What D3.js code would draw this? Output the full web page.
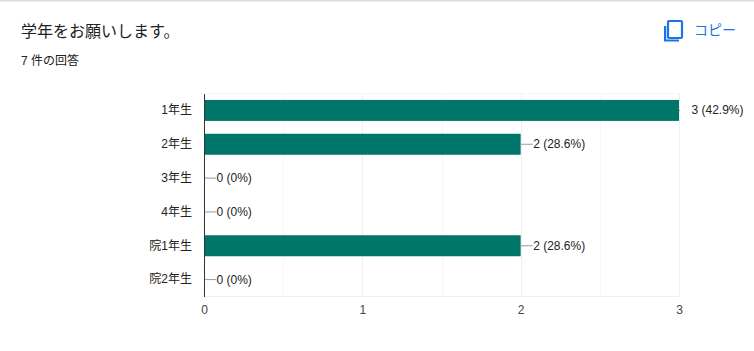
<!DOCTYPE html>
<html>
<head>
<meta charset="utf-8">
<script src="https://cdn.jsdelivr.net/npm/d3@7"></script>
<style>
  html, body { margin: 0; padding: 0; background: #fff; overflow: hidden; }
  text { font-family: "Liberation Sans", "Noto Sans CJK JP", sans-serif; }
</style>
</head>
<body>
<div id="chart"></div>
<script>
const categories = ["1年生", "2年生", "3年生", "4年生", "院1年生", "院2年生"];
const counts = [3, 2, 0, 0, 2, 0];
const percents = ["42.9%", "28.6%", "0%", "0%", "28.6%", "0%"];
const ticks = [0, 1, 2, 3];
const gridTicks = [0.5, 1, 1.5, 2, 2.5, 3];

const width = 754;
const height = 351;
const margin = { top: 93.5, right: 75, bottom: 54.5, left: 204 };
const innerW = width - margin.left - margin.right;
const innerH = height - margin.top - margin.bottom;

const svg = d3.select("#chart")
  .append("svg")
  .attr("width", width)
  .attr("height", height)
  .style("display", "block");

// Card top edge
svg.append("rect")
  .attr("width", width)
  .attr("height", 1.5)
  .attr("fill", "#dadce0");

// Header
svg.append("text")
  .attr("x", 21)
  .attr("y", 37)
  .attr("font-size", "16px")
  .attr("fill", "#202124")
  .text("学年をお願いします。");

svg.append("text")
  .attr("x", 21)
  .attr("y", 65)
  .attr("font-size", "12px")
  .attr("fill", "#202124")
  .text("7 件の回答");

// Copy icon
const icon = svg.append("g")
  .attr("fill", "none")
  .attr("stroke", "#1a73e8")
  .attr("stroke-width", 2.2);
icon.append("rect")
  .attr("x", 668).attr("y", 21)
  .attr("width", 14).attr("height", 17)
  .attr("rx", 1);
icon.append("path")
  .attr("d", "M665.1 26V40.5H679");

svg.append("text")
  .attr("x", 694)
  .attr("y", 35)
  .attr("font-size", "14px")
  .attr("fill", "#1a73e8")
  .text("コピー");

const g = svg.append("g")
  .attr("transform", `translate(${margin.left},${margin.top})`);

const x = d3.scaleLinear()
  .domain([0, 3])
  .range([0, innerW]);

const y = d3.scaleBand()
  .domain(categories)
  .range([0, innerH])
  .paddingInner(0.38)
  .paddingOuter(0.19);

// Grid lines
g.selectAll(".grid")
  .data(gridTicks)
  .join("line")
  .attr("class", "grid")
  .attr("x1", d => Math.round(x(d)) + 0.5)
  .attr("x2", d => Math.round(x(d)) + 0.5)
  .attr("y1", 0)
  .attr("y2", innerH)
  .attr("stroke", d => Number.isInteger(d) ? "#efefef" : "#f6f6f6");

g.append("line")
  .attr("x1", 0).attr("x2", innerW)
  .attr("y1", 0).attr("y2", 0)
  .attr("stroke", "#f3f3f3");

g.append("line")
  .attr("x1", 0).attr("x2", innerW)
  .attr("y1", innerH).attr("y2", innerH)
  .attr("stroke", "#efefef");

// Bars
g.selectAll(".bar")
  .data(categories)
  .join("rect")
  .attr("class", "bar")
  .attr("x", 0)
  .attr("y", d => y(d))
  .attr("width", (d, i) => x(counts[i]))
  .attr("height", y.bandwidth())
  .attr("fill", "#00756a");

// Leader lines, the longest bar only gets a stub
const maxCount = d3.max(counts);
g.selectAll(".leader")
  .data(categories)
  .join("line")
  .attr("class", "leader")
  .attr("x1", (d, i) => x(counts[i]))
  .attr("x2", (d, i) => x(counts[i]) + (counts[i] === maxCount ? 1 : 12))
  .attr("y1", d => y(d) + y.bandwidth() / 2)
  .attr("y2", d => y(d) + y.bandwidth() / 2)
  .attr("stroke", "#9a9a9a");

// Value labels
g.selectAll(".value")
  .data(categories)
  .join("text")
  .attr("class", "value")
  .attr("x", (d, i) => x(counts[i]) + 12.5)
  .attr("y", d => y(d) + y.bandwidth() / 2 + 4)
  .attr("font-size", "12px")
  .attr("fill", "#222")
  .text((d, i) => `${counts[i]} (${percents[i]})`);

// Axes
const yAxis = g.append("g")
  .call(d3.axisLeft(y).tickSize(0).tickPadding(12));
yAxis.select(".domain").attr("stroke", "#333");
yAxis.selectAll("text")
  .attr("font-size", "12px")
  .attr("font-family", null)
  .attr("fill", "#222");
yAxis.attr("font-family", null);

const xAxis = g.append("g")
  .attr("transform", `translate(0,${innerH})`)
  .call(d3.axisBottom(x).tickValues(ticks).tickFormat(d3.format("d")).tickSize(0).tickPadding(9));
xAxis.select(".domain").remove();
xAxis.attr("font-family", null);
xAxis.selectAll("text")
  .attr("font-size", "12px")
  .attr("fill", "#444");
</script>
</body>
</html>
